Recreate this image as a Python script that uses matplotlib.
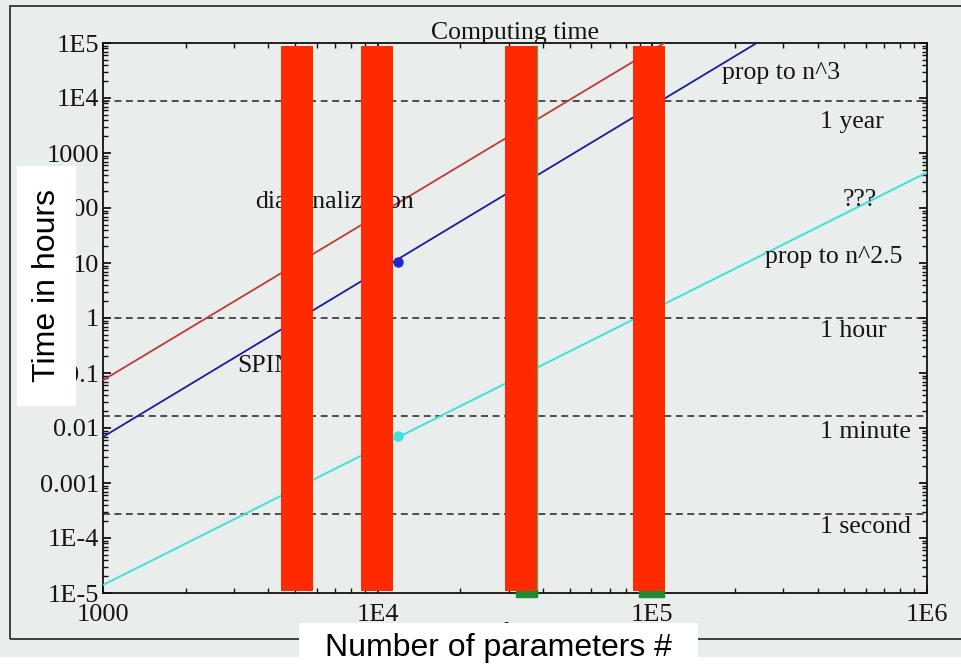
import matplotlib
matplotlib.use("Agg")
import matplotlib.pyplot as plt
from matplotlib.patches import Rectangle
from matplotlib.ticker import FixedLocator, FixedFormatter, LogLocator, NullFormatter

# ---------------- data ----------------
x_ticks = [1e3, 1e4, 1e5, 1e6]
x_ticklabels = ["1000", "1E4", "1E5", "1E6"]
y_ticks = [1e-5, 1e-4, 1e-3, 1e-2, 1e-1, 1, 10, 100, 1000, 1e4, 1e5]
y_ticklabels = ["1E-5", "1E-4", "0.001", "0.01", "0.1", "1", "10", "100", "1000", "1E4", "1E5"]

red_x = [1000, 1.105e5]
red_y = [0.074, 1e5]
blue_x = [1000, 2.4e5]
blue_y = [0.0069, 1e5]
cyan_x = [1000, 1e6]
cyan_y = [1.4e-5, 443]

blue_point = (11860, 10.4)
cyan_point = (11860, 0.0073)

ref_levels = [8760, 1.0, 1 / 60, 1 / 3600]
ref_labels = ["1 year", "1 hour", "1 minute", "1 second"]
ref_label_y = [3660, 0.58, 0.0085, 1.6e-4]

bar_x0 = [4446, 8690, 29040, 84900]
bar_x1 = [5808, 11380, 38000, 111100]
green_x0 = [31900, 89600]
green_x1 = [38000, 110000]

# ---------------- style ----------------
bg = "#e9edeb"
ink = "#151515"
serif = "Liberation Serif"
sans = "Liberation Sans"

fig = plt.figure(figsize=(9.62, 6.70), dpi=100, facecolor=bg)
W, H = 962, 670

def fx(px):
    return px / W

def fy(py):
    return (H - py) / H

# white strip at bottom of the image
fig.patches.append(Rectangle((0, 0), 1, fy(657), transform=fig.transFigure,
                             facecolor="white", edgecolor="none", zorder=0))
# outer frame
fig.patches.append(Rectangle((fx(10), fy(639)), 1.2, fy(6) - fy(639), transform=fig.transFigure,
                             facecolor="none", edgecolor="#222222", lw=1.2, zorder=1))

ax = fig.add_axes([fx(103), fy(593), fx(927) - fx(103), fy(43) - fy(593)])
ax.set_facecolor(bg)
ax.set_xscale("log")
ax.set_yscale("log")
ax.set_xlim(1e3, 1e6)
ax.set_ylim(1e-5, 1e5)

for s in ax.spines.values():
    s.set_linewidth(1.3)
    s.set_color("#111111")

ax.xaxis.set_major_locator(FixedLocator(x_ticks))
ax.xaxis.set_major_formatter(FixedFormatter(x_ticklabels))
ax.yaxis.set_major_locator(FixedLocator(y_ticks))
ax.yaxis.set_major_formatter(FixedFormatter(y_ticklabels))
ax.xaxis.set_minor_locator(LogLocator(base=10, subs=range(2, 10), numticks=20))
ax.yaxis.set_minor_locator(LogLocator(base=10, subs=range(2, 10), numticks=30))
ax.xaxis.set_minor_formatter(NullFormatter())
ax.yaxis.set_minor_formatter(NullFormatter())
ax.tick_params(which="both", direction="in", top=True, right=True, color="#111111")
ax.tick_params(which="major", length=6, width=1.3)
ax.tick_params(which="minor", length=3.5, width=1.0)
ax.tick_params(axis="x", which="major", pad=8, labelsize=19)
ax.tick_params(axis="y", which="major", pad=3, labelsize=19)
for lab in ax.get_xticklabels() + ax.get_yticklabels():
    lab.set_fontfamily(serif)
    lab.set_color(ink)

# reference levels
for lev in ref_levels:
    ax.axhline(lev, color="#222222", lw=1.1, ls=(0, (4.5, 3)), zorder=2)
for lab, yy in zip(ref_labels, ref_label_y):
    ax.text(4.07e5, yy, lab, ha="left", va="center", fontsize=18.5, family=serif, color=ink)

# lines
ax.plot(red_x, red_y, color="#c0393b", lw=1.3, zorder=3)
ax.plot(blue_x, blue_y, color="#1c1c9c", lw=1.3, zorder=3)
ax.plot(cyan_x, cyan_y, color="#3fe0e0", lw=1.4, zorder=3)
ax.plot([blue_point[0]], [blue_point[1]], "o", color="#1c2ad0", ms=6.5, zorder=4)
ax.plot([cyan_point[0]], [cyan_point[1]], "o", color="#3fe0e0", ms=6.5, zorder=4)

# annotations
ax.text(1.79e5, 2.85e4, "prop to n^3", ha="left", va="center", fontsize=18.5, family=serif, color=ink)
ax.text(4.94e5, 140, "???", ha="left", va="center", fontsize=18.5, family=serif, color=ink)
ax.text(2.57e5, 12.9, "prop to n^2.5", ha="left", va="center", fontsize=18.5, family=serif, color=ink)
ax.text(3570, 128, "diagonalization", ha="left", va="center", fontsize=18.5, family=serif, color=ink)
ax.text(3080, 0.134, "SPINS", ha="left", va="center", fontsize=18.5, family=serif, color=ink)

# green fragments under the bars
ax.axvline(38150, ymin=0.0, ymax=0.995, color="#2fbf5f", lw=1.0, zorder=4.5)
for g0, g1 in zip(green_x0, green_x1):
    ax.axvspan(g0, g1, ymin=-0.008, ymax=0.006, color="#1f8a34", zorder=4.6, clip_on=False)

# red covering bars
for b0, b1 in zip(bar_x0, bar_x1):
    ax.axvspan(b0, b1, ymin=0.004, ymax=0.9945, color="#ff2a00", zorder=5, lw=0)

# title
fig.text(fx(515), fy(39), "Computing time", ha="center", va="baseline",
         fontsize=18.5, family=serif, color=ink)
# original axis label (mostly hidden)
fig.text(fx(512), fy(640), "Number of parameters", ha="center", va="baseline",
         fontsize=18.5, family=serif, color=ink, zorder=2)

# white overlay boxes with labels
fig.patches.append(Rectangle((fx(17), fy(406)), fx(76) - fx(17), fy(166) - fy(406),
                             transform=fig.transFigure, facecolor="white", edgecolor="none", zorder=10))
fig.text(fx(47), fy(286), "Time in hours", rotation=90, ha="center", va="center",
         fontsize=23, family=sans, color="black", zorder=11)
fig.patches.append(Rectangle((fx(299), fy(667)), fx(698) - fx(299), fy(623) - fy(667),
                             transform=fig.transFigure, facecolor="white", edgecolor="none", zorder=10))
fig.text(fx(498), fy(648), "Number of parameters #", ha="center", va="center",
         fontsize=23, family=sans, color="black", zorder=11)

fig.savefig("out.png", dpi=100, facecolor=bg)
